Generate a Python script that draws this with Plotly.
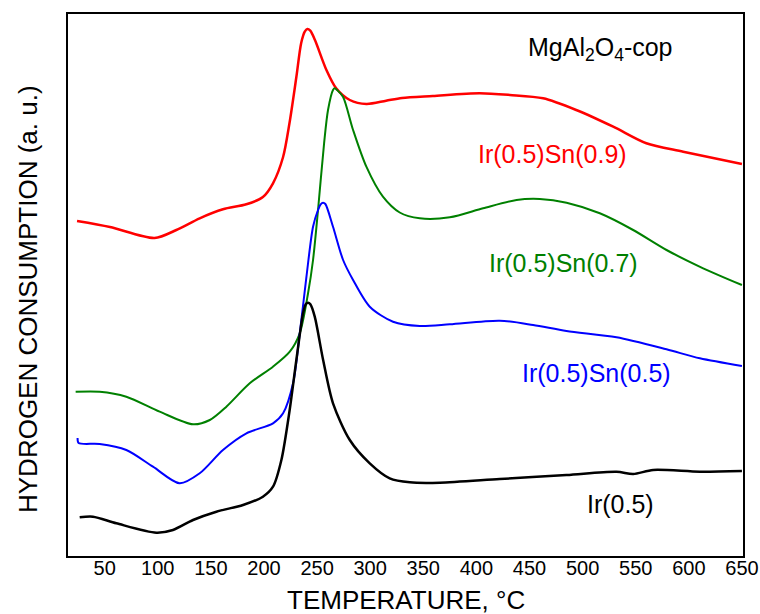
import plotly.graph_objects as go

# ---- data ----
temp_ticks = [50, 100, 150, 200, 250, 300, 350, 400, 450, 500, 550, 600, 650]

red_T = [24, 55, 97, 117.5, 139.5, 161.4, 183.4, 199, 208.5, 218, 224, 230.5, 235, 238.4,
         240.8, 243.6, 248, 258.8, 268, 280.8, 296.5, 315, 330, 359, 403, 431.5, 462.8,
         494, 528.8, 560, 594.7, 650]
red_y = [335, 329, 318, 326, 337.7, 346.7, 351.7, 359, 372.7, 399, 432.7, 479, 512.7, 524.3,
         527, 525.3, 516, 486, 467.7, 456, 452, 455.3, 458, 460, 462.7, 461, 457.7,
         446, 429.3, 412.7, 404.3, 392]

green_T = [22.7, 45.3, 70.4, 101.8, 133.2, 149, 164.6, 186.6, 208.5, 224.3,
           233.7, 241.5, 246.2, 250.9, 256.6, 260.3, 265, 266.6, 268.8, 274.4, 283.9, 296.4,
           312, 327.8, 346.7, 375, 406.3, 437.8, 459.7, 484.9, 516.2, 547.6,
           579, 613.5, 650]
green_y = [164.3, 164.3, 159.3, 144.3, 131.7, 136, 149.3, 172.7, 189.3, 204.3,
           222.7, 262.7, 296, 346, 412.7, 446, 466, 467.7, 466, 459.3, 426, 389.3,
           359.3, 343.5, 337.7, 338.7, 347.7, 356, 357, 353.3, 342.7, 326,
           306, 287.7, 271]

blue_T = [24.5, 25.5, 45.3, 70.4, 95.5, 120.6, 139.5, 161.4, 183.5, 208.5,
          218, 227.4, 233.7, 240, 246.2, 250.9, 253.4, 255.6, 257.8, 265, 274.5, 283.9,
          299.6, 321.5, 346.7, 375, 422, 453.4, 484.8, 531.9, 579, 610.4, 650]
blue_y = [118, 113, 112, 106, 89.3, 72.7, 82.7, 106, 122.7, 132.7,
          142.7, 172.7, 222.7, 279.3, 329.3, 346, 351.7, 353.3, 352, 329.3, 296, 276,
          249.3, 234.3, 230, 231.7, 235.3, 231, 225, 218.7, 206.7, 197.7, 190]

black_T = [26.5, 39, 61, 98.7, 114.3, 133.2, 155.2, 180.3, 199, 208.5,
           216.4, 224.2, 230.5, 236.8, 239.3, 241.5, 243.7, 247.8, 255.7, 265, 280.8, 299.6,
           318.4, 337.3, 365.5, 422, 484.8, 531.9, 547.6, 566.4, 610.4, 650]
black_y = [38.7, 39.3, 32.7, 23.3, 26, 36, 44.3, 51, 59.3, 69.3,
           96, 146, 196, 242.7, 251.7, 253.3, 251.7, 239.3, 196, 152.7, 116, 92.7,
           77.7, 73.7, 73.3, 77, 81, 84.3, 82, 86, 84.3, 85]

series = [
    ("Ir(0.5)Sn(0.9)", red_T, red_y, "#ff0000", 2.5),
    ("Ir(0.5)Sn(0.7)", green_T, green_y, "#008000", 2),
    ("Ir(0.5)Sn(0.5)", blue_T, blue_y, "#0000ff", 2),
    ("Ir(0.5)", black_T, black_y, "#000000", 2.5),
]

labels = [
    ("Ir(0.5)Sn(0.9)", 472, 402, "#ff0000"),
    ("Ir(0.5)Sn(0.7)", 482, 293, "#008000"),
    ("Ir(0.5)Sn(0.5)", 513, 183, "#0000ff"),
    ("Ir(0.5)", 536, 52, "#000000"),
    ("MgAl<sub>2</sub>O<sub>4</sub>-cop", 517, 507, "#000000"),
]

FONT = "Arial, Liberation Sans, sans-serif"

fig = go.Figure()
for name, T, y, c, w in series:
    fig.add_trace(go.Scatter(x=T, y=y, mode="lines", name=name,
                             line=dict(color=c, width=w, shape="spline", smoothing=0.8),
                             showlegend=False))

for text, x, y, c in labels:
    fig.add_annotation(x=x, y=y, xref="x", yref="y", text=text, showarrow=False,
                       font=dict(family=FONT, size=25, color=c),
                       xanchor="center", yanchor="middle")

fig.add_annotation(x=0.5, y=0, xref="paper", yref="paper", text="TEMPERATURE, °C",
                   showarrow=False, font=dict(family=FONT, size=26, color="black"),
                   xanchor="center", yanchor="middle", yshift=-44, xshift=0)
fig.add_annotation(x=0, y=0.5, xref="paper", yref="paper",
                   text="HYDROGEN CONSUMPTION (a. u.)", textangle=-90,
                   showarrow=False, font=dict(family=FONT, size=26, color="black"),
                   xanchor="center", yanchor="middle", xshift=-40, yshift=-14)

fig.update_layout(
    width=760, height=614,
    margin=dict(l=68, r=17, t=14, b=58, autoexpand=False),
    paper_bgcolor="white", plot_bgcolor="white",
    font=dict(family=FONT, color="black"),
    xaxis=dict(range=[15.5, 651], tickvals=temp_ticks, ticktext=[str(t) for t in temp_ticks],
               showgrid=False, zeroline=False, showline=True, linecolor="black",
               linewidth=2, mirror=True, ticks="", automargin=False,
               ticklabelstandoff=-7,
               tickfont=dict(size=20, family=FONT)),
    yaxis=dict(range=[0, 542], showticklabels=False, showgrid=False, zeroline=False,
               showline=True, linecolor="black", linewidth=2, mirror=True, ticks="",
               automargin=False),
)

fig.write_html("out.html")
